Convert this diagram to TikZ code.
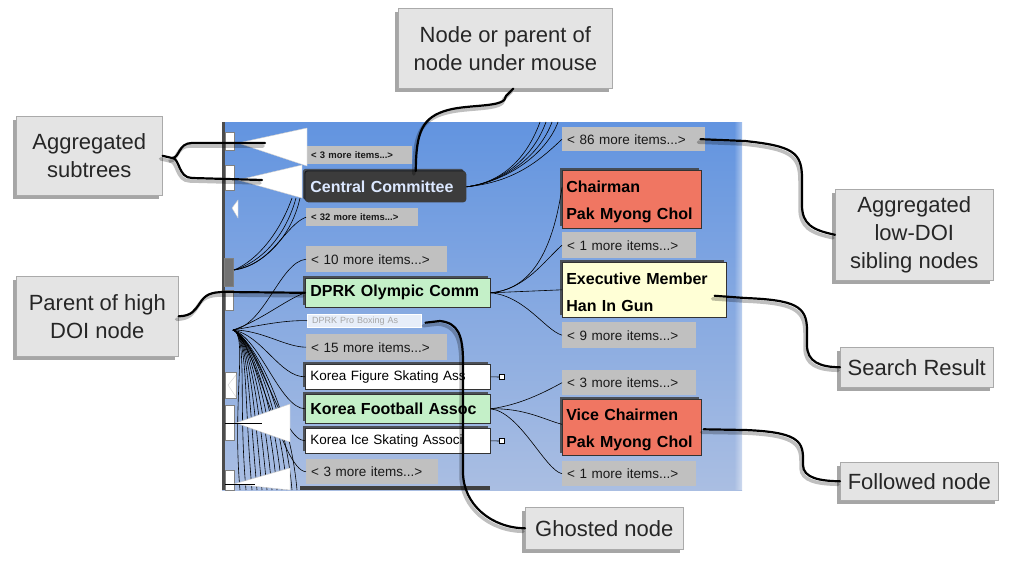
\documentclass[tikz,border=0pt]{standalone}
\usepackage{fontspec}
\setmainfont{Liberation Sans}
\usetikzlibrary{shadows,calc,fadings}
\definecolor{panelTop}{RGB}{98,148,224}
\definecolor{panelBot}{RGB}{170,190,226}
\definecolor{moreGray}{RGB}{192,192,192}
\definecolor{calloutFill}{RGB}{228,228,228}
\definecolor{calloutDraw}{RGB}{170,170,170}
\definecolor{redNode}{RGB}{240,118,98}
\definecolor{yellowNode}{RGB}{255,255,214}
\definecolor{greenNode}{RGB}{196,240,200}
\definecolor{darkNode}{RGB}{60,60,60}
\definecolor{ccText}{RGB}{220,232,255}
\newcommand\fCall{\fontsize{22}{28}\selectfont}
\newcommand\fBold{\fontsize{16}{27}\selectfont\bfseries}
\newcommand\fMore{\fontsize{13.5}{15}\selectfont}
\newcommand\fTiny{\fontsize{9.5}{11}\selectfont\bfseries}
\newcommand\topstrut{\rule{0pt}{17pt}}
\tikzfading[name=fadeRight, left color=transparent!100, right color=transparent!0]
\begin{document}
\begin{tikzpicture}[x=1pt,y=-1pt,
  callout/.style={anchor=north west, inner sep=0pt, fill=calloutFill, draw=calloutDraw, line width=0.6pt,
    align=center, font=\fCall, text=black!85,
    drop shadow={shadow xshift=-3pt, shadow yshift=-4pt, opacity=.35, fill=black}},
  pbox/.style={anchor=north west, inner xsep=5pt, inner ysep=0pt, align=left},
  more/.style={pbox, fill=moreGray, font=\fMore, text=black!90},
  tinymore/.style={pbox, fill=moreGray, font=\fTiny, text=black!90},
  solidbox/.style={pbox, line width=0.6pt,
    drop shadow={shadow xshift=-2.5pt, shadow yshift=2.5pt, opacity=.85, fill=black!75}},
  edge/.style={draw=black, line width=0.6pt},
  conn/.style={draw=black, line width=2.2pt, line cap=round, line join=round},
  connshadow/.style={draw=black, opacity=.25, line width=3.5pt, line cap=round,
    transform canvas={shift={(-2pt,-3pt)}}},
  tri/.style={fill=white, draw=white!80!black, line width=0.4pt}
]
\useasboundingbox (0,0) rectangle (1014,573);
\newcommand\myconn[1]{\draw[connshadow] #1; \draw[conn] #1;}

% ---------- panel ----------
\shade[top color=panelTop, bottom color=panelBot] (222,122) rectangle (742,490);
\fill[white, path fading=fadeRight] (734,122) rectangle (752,490);
\fill[black!70] (222,122) rectangle (225,490);
\fill[black!75] (300,486) rectangle (490,490);

% left strip nodes (clipped)
\fill[white, draw=black!50] (225,132) rectangle (234,150);
\fill[white, draw=black!50] (225,165) rectangle (234,190);
\fill[black!55, draw=black!50] (224,258) rectangle (233,286);
\fill[white, draw=black!50] (225,290) rectangle (233,310);
\fill[white, draw=black!50] (225,372) rectangle (236,398);
\fill[white, draw=black!50] (225,405) rectangle (234,440);
\fill[white, draw=black!50] (225,470) rectangle (234,490);

% ---------- panel nodes ----------
\node[tinymore, text width=96pt, minimum height=18pt] (m3a) at (306,146) {< 3 more items...>};
\node[solidbox, fill=darkNode, rounded corners=3pt, text=ccText, font=\fBold, text width=151pt, minimum height=31pt, drop shadow={shadow xshift=-1pt, shadow yshift=1pt, opacity=.6, fill=black}] (cc) at (305,171) {Central Committee};
\node[tinymore, text width=102pt, minimum height=18pt] (m32) at (306,208) {< 32 more items...>};
\node[more, text width=131pt, minimum height=26pt] (m10) at (306,246) {< 10 more items...>};
\node[solidbox, fill=greenNode, draw=black!80, font=\fBold, text width=175pt, minimum height=29pt] (dprk) at (305,278) {DPRK Olympic Comm};
\node[pbox, fill=white, fill opacity=.8, text opacity=1, draw=white, text=black!35, font=\fontsize{9}{10}\selectfont, text width=104pt, minimum height=13pt] (ghost) at (307,314) {DPRK Pro Boxing As};
\node[more, text width=131pt, minimum height=26pt] (m15) at (306,334) {< 15 more items...>};
\node[solidbox, fill=white, draw=black!80, font=\fMore, text width=175pt, minimum height=25pt] (kfs) at (305,364) {Korea Figure Skating Ass};
\node[solidbox, fill=greenNode, draw=black!80, font=\fBold, text width=175pt, minimum height=29pt] (kfb) at (305,394) {Korea Football Assoc};
\node[solidbox, fill=white, draw=black!80, font=\fMore, text width=175pt, minimum height=25pt] (kis) at (305,428) {Korea Ice Skating Associ};
\node[more, text width=122pt, minimum height=25pt] (m3b) at (306,459) {< 3 more items...>};

\node[more, text width=133pt, minimum height=24pt] (m86) at (562,127) {< 86 more items...>};
\node[solidbox, fill=redNode, draw=black!80, font=\fBold, text width=131pt, inner xsep=4pt, minimum height=58pt] (chair) at (562,170) {\topstrut Chairman\\Pak Myong Chol};
\node[more, text width=124pt, minimum height=26pt] (m1a) at (562,232) {< 1 more items...>};
\node[solidbox, fill=yellowNode, draw=black!80, font=\fBold, text width=156pt, inner xsep=4pt, minimum height=55pt] (exec) at (562,262) {\topstrut Executive Member\\Han In Gun};
\node[more, text width=124pt, minimum height=26pt] (m9) at (562,322) {< 9 more items...>};
\node[more, text width=124pt, minimum height=25pt] (m3c) at (562,370) {< 3 more items...>};
\node[solidbox, fill=redNode, draw=black!80, font=\fBold, text width=131pt, inner xsep=4pt, minimum height=56pt] (vc) at (562,399) {\topstrut Vice Chairmen\\Pak Myong Chol};
\node[more, text width=124pt, minimum height=25pt] (m1b) at (562,461) {< 1 more items...>};

% small collapsed markers
\node[draw=black, fill=white, inner sep=0pt, minimum width=5pt, minimum height=5pt] (kfsm) at (502,377) {};
\node[draw=black, fill=white, inner sep=0pt, minimum width=5pt, minimum height=5pt] (kism) at (502,441) {};
\draw[edge] (kfs.east) -- (kfsm.west);
\draw[edge] (kis.east) -- (kism.west);

% ---------- panel edges ----------
\coordinate (Lf) at (233,330);
\coordinate (Ly) at (234,270);
\draw[edge] (Lf) .. controls (265,325) and (280,262) .. (m10.west);
\draw[edge] (Lf) .. controls (262,320) and (285,300) .. (dprk.west);
\draw[edge] (Lf) .. controls (262,325) and (285,320) .. (ghost.west);
\draw[edge] (Lf) .. controls (262,330) and (285,347) .. (m15.west);
\draw[edge] (Lf) .. controls (262,335) and (280,377) .. (kfs.west);
\draw[edge] (Lf) .. controls (260,338) and (280,408) .. (kfb.west);
\draw[edge] (Lf) .. controls (258,340) and (282,441) .. (kis.west);
\draw[edge] (Lf) .. controls (256,342) and (282,471) .. (m3b.west);
\foreach \i/\x in {1/240,2/246,3/252,4/257,5/262,6/267,7/272,8/277,9/282,10/287,11/292,12/297}{
  \coordinate (bb\i) at (\x,490);
  \draw[edge] (Lf) .. controls (248,334) and (\x-8,400) .. (bb\i);
}
\coordinate (t2b) at (300,198);
\draw[edge] (t2b) .. controls (292,235) and (265,265) .. (Ly);
\draw[edge] ([xshift=-4pt]t2b) .. controls (286,235) and (262,262) .. (Ly);
\draw[edge] ([xshift=-8pt]t2b) .. controls (280,232) and (258,260) .. (Ly);
\draw[edge] (m32.west) .. controls (285,225) and (272,265) .. (Ly);

\foreach \i/\x in {1/540,2/546,3/552,4/558}{
  \coordinate (tt\i) at (\x,122);
  \draw[edge] (cc.east) .. controls (505,182) and (\x-12,155) .. (tt\i);
}
\draw[edge] (cc.east) .. controls (515,182) and (540,160) .. (m86.west);

\draw[edge] (dprk.east) .. controls (520,290) and (550,270) .. ([yshift=12pt]chair.west);
\draw[edge] (dprk.east) .. controls (525,290) and (545,260) .. (m1a.west);
\draw[edge] (dprk.east) -- (exec.west);
\draw[edge] (dprk.east) .. controls (525,296) and (545,330) .. (m9.west);

\draw[edge] (kfb.east) .. controls (520,405) and (545,392) .. (m3c.west);
\draw[edge] (kfb.east) .. controls (525,408) and (545,420) .. ([yshift=3pt]vc.west);
\draw[edge] (kfb.east) .. controls (520,412) and (545,470) .. (m1b.west);

% aggregated-subtree triangles
\filldraw[tri] (238,143) -- (307,128) -- (307,166) -- cycle;
\filldraw[tri] (238,180) -- (302,165) -- (302,198) -- cycle;
\filldraw[tri] (232,208) -- (238,200) -- (238,218) -- cycle;
\filldraw[tri] (236,423) -- (290,404) -- (290,442) -- cycle;
\filldraw[tri] (234,484) -- (290,468) -- (290,490) -- cycle;
\filldraw[tri] (228,385) -- (236,375) -- (236,397) -- cycle;
\draw[edge] (225,423) -- (262,423);
\draw[edge] (225,484) -- (255,484);

% ---------- callouts ----------
\node[callout, minimum width=146pt, minimum height=79pt] (c1) at (16,116) {Aggregated\\subtrees};
\node[callout, minimum width=214pt, minimum height=80pt] (c2) at (398,8) {Node or parent of\\node under mouse};
\node[callout, minimum width=158pt, minimum height=91pt] (c3) at (835,189) {Aggregated\\low-DOI\\sibling nodes};
\node[callout, minimum width=153pt, minimum height=40pt] (c4) at (840,347) {Search Result};
\node[callout, minimum width=158pt, minimum height=38pt] (c5) at (840,462) {Followed node};
\node[callout, minimum width=158pt, minimum height=42pt] (c6) at (525,507) {Ghosted node};
\node[callout, minimum width=162pt, minimum height=80pt] (c7) at (16,276) {Parent of high\\DOI node};

% ---------- callout connectors ----------
\coordinate (t1in) at (265,143);
\coordinate (t2in) at (262,180);
\myconn{(c1.east) -- (172,158) .. controls (180,158) and (178,143) .. (192,143) -- (t1in)}
\myconn{(172,158) .. controls (180,158) and (178,178) .. (192,178) -- (t2in)}
\myconn{([xshift=8pt]c2.south) -- (506,96) .. controls (506,108) and (470,104) .. (448,110) .. controls (422,117) and (416,132) .. ([xshift=30pt]cc.north)}
\myconn{([xshift=-5pt]m86.east) -- (745,141) .. controls (792,146) and (802,152) .. (802,178) -- (802,205) .. controls (802,224) and (812,230) .. (c3.west)}
\myconn{([xshift=-12pt,yshift=-6pt]exec.east) -- (745,298) .. controls (795,300) and (807,306) .. (807,330) -- (807,345) .. controls (807,362) and (820,367) .. (c4.west)}
\myconn{([xshift=2pt,yshift=-2pt]vc.east) -- (745,430) .. controls (795,432) and (803,440) .. (803,458) -- (803,465) .. controls (803,478) and (820,481) .. (c5.west)}
\myconn{([xshift=4pt,yshift=-2pt]ghost.east) -- (440,321) .. controls (458,323) and (463,335) .. (463,362) -- (463,472) .. controls (463,505) and (492,528) .. (c6.west)}
\myconn{(c7.east) .. controls (192,316) and (195,310) .. (200,303) .. controls (205,295) and (210,292) .. (225,292) -- (dprk.west)}
\end{tikzpicture}
\end{document}
